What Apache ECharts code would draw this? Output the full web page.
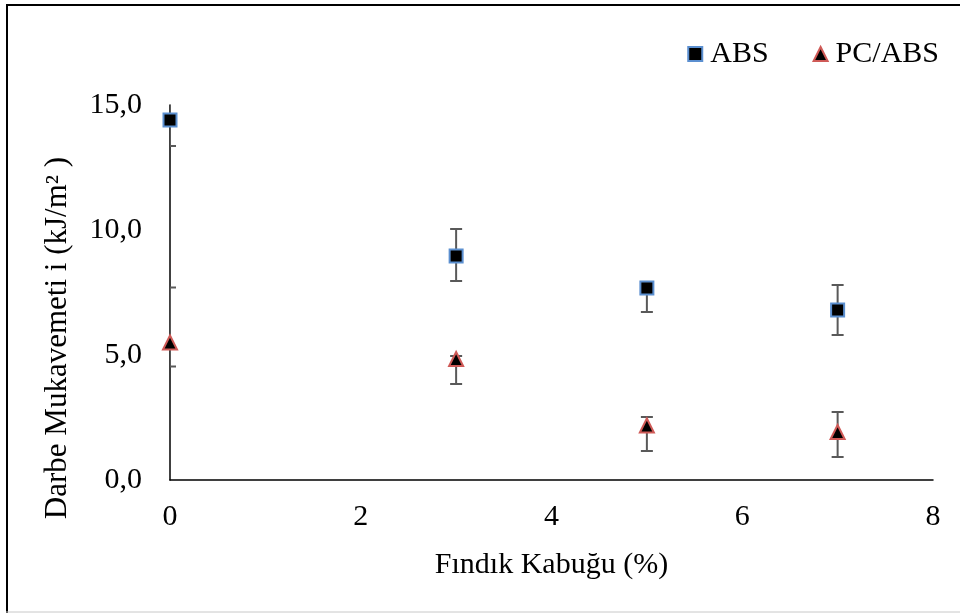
<!DOCTYPE html>
<html>
<head>
<meta charset="utf-8">
<script src="https://cdn.jsdelivr.net/npm/echarts@6/dist/echarts.min.js"></script>
<style>
  html, body { margin: 0; padding: 0; background: #fff; }
  #chart { width: 960px; height: 613px; }
</style>
</head>
<body>
<div id="chart"></div>
<script>
// Hazelnut shell content (%)
const shellPct = [0, 3, 5, 7];

// Impact strength (kJ/m²) with asymmetric error ranges
const absValues = [14.4, 8.96, 7.68, 6.8];
const absErrPlus = [1.0, 1.08, 0, 1.0];
const absErrMinus = [1.04, 1.0, 0.96, 1.0];

const pcAbsValues = [5.5, 4.84, 2.18, 1.92];
const pcAbsErrPlus = [2.2, 0.12, 0.34, 0.8];
const pcAbsErrMinus = [0.96, 1.0, 1.02, 1.0];

const seriesNames = ['ABS', 'PC/ABS'];
const xAxisTitle = 'Fındık Kabuğu (%)';
const yAxisTitle = 'Darbe Mukavemeti i (kJ/m² )';

const FONT = '"Liberation Serif", "Times New Roman", serif';
const FS = 30;

function pointData(values) {
  return shellPct.map((x, i) => [x, values[i]]);
}
function errorData(values, plus, minus) {
  return shellPct.map((x, i) => [x, values[i] - minus[i], values[i] + plus[i]]);
}

function renderErrorBar(params, api) {
  const x = api.value(0);
  const lo = api.coord([x, api.value(1)]);
  const hi = api.coord([x, api.value(2)]);
  const half = 6;
  const style = { stroke: '#595959', lineWidth: 2 };
  return {
    type: 'group',
    children: [
      { type: 'line', shape: { x1: lo[0], y1: lo[1], x2: hi[0], y2: hi[1] }, style },
      { type: 'line', shape: { x1: lo[0] - half, y1: lo[1], x2: lo[0] + half, y2: lo[1] }, style },
      { type: 'line', shape: { x1: hi[0] - half, y1: hi[1], x2: hi[0] + half, y2: hi[1] }, style }
    ]
  };
}

const chart = echarts.init(document.getElementById('chart'));
chart.setOption({
  animation: false,
  backgroundColor: '#fff',
  textStyle: { fontFamily: FONT, color: '#000' },
  grid: { left: 170, right: 27, top: 105, bottom: 133 },
  legend: {
    data: seriesNames,
    right: 16,
    top: 34,
    itemWidth: 14,
    itemHeight: 14,
    itemGap: 44,
    textStyle: { fontFamily: FONT, fontSize: FS, color: '#000', padding: [0, 0, 0, 3] }
  },
  xAxis: {
    type: 'value',
    min: 0, max: 8, interval: 2,
    name: xAxisTitle,
    nameLocation: 'middle',
    nameGap: 70,
    nameTextStyle: { fontFamily: FONT, fontSize: FS, color: '#000' },
    axisLine: { lineStyle: { color: '#000', width: 1.5 } },
    axisTick: { show: false },
    splitLine: { show: false },
    axisLabel: { fontFamily: FONT, fontSize: FS, color: '#000', margin: 22 }
  },
  yAxis: {
    type: 'value',
    min: 0, max: 15, interval: 5,
    axisLine: { show: true, lineStyle: { color: '#000', width: 1.5 } },
    axisTick: { show: false },
    splitLine: { show: false },
    axisLabel: {
      fontFamily: FONT, fontSize: FS, color: '#000', margin: 28,
      formatter: v => v.toFixed(1).replace('.', ',')
    }
  },
  graphic: [
    {
      type: 'text',
      x: 58, y: 338,
      rotation: Math.PI / 2,
      style: {
        text: yAxisTitle,
        font: '31px ' + FONT,
        fill: '#000',
        align: 'center',
        verticalAlign: 'middle'
      }
    },
    { type: 'line', shape: { x1: 7, y1: 5, x2: 7, y2: 613 }, style: { stroke: '#000', lineWidth: 2 } },
    { type: 'line', shape: { x1: 6, y1: 5, x2: 960, y2: 5 }, style: { stroke: '#000', lineWidth: 2 } },
    { type: 'line', shape: { x1: 6, y1: 612, x2: 960, y2: 612 }, style: { stroke: '#c8c8c8', lineWidth: 1 } }
  ],
  series: [
    {
      type: 'custom',
      name: 'ABS-err',
      renderItem: renderErrorBar,
      data: errorData(absValues, absErrPlus, absErrMinus),
      clip: true,
      z: 3,
      silent: true
    },
    {
      type: 'custom',
      name: 'PC/ABS-err',
      renderItem: renderErrorBar,
      data: errorData(pcAbsValues, pcAbsErrPlus, pcAbsErrMinus),
      clip: true,
      z: 3,
      silent: true
    },
    {
      type: 'scatter',
      name: seriesNames[0],
      symbol: 'rect',
      symbolSize: 13,
      itemStyle: { color: '#000', borderColor: '#5b8fd0', borderWidth: 2, opacity: 1 },
      data: pointData(absValues),
      clip: false,
      z: 5
    },
    {
      type: 'scatter',
      name: seriesNames[1],
      symbol: 'triangle',
      symbolSize: 14,
      itemStyle: { color: '#000', borderColor: '#cf5a57', borderWidth: 2, opacity: 1 },
      data: pointData(pcAbsValues),
      clip: false,
      z: 5
    }
  ]
});
</script>
</body>
</html>
